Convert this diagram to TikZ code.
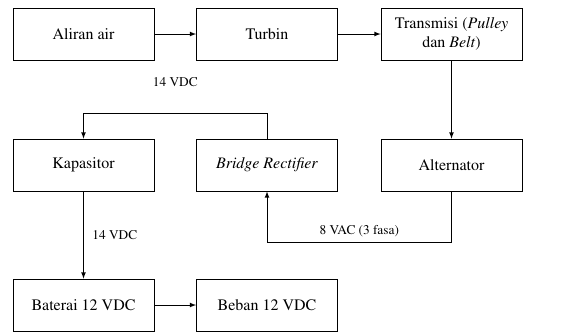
\documentclass[tikz,border=0pt]{standalone}
\usepackage[T1]{fontenc}
\usepackage{mathptmx}

\begin{document}
\begin{tikzpicture}[x=0.75pt, y=-0.75pt, line width=0.6pt]
    \tikzstyle{blok}=[draw, shape=rectangle, minimum width=105.75pt, minimum height=39pt, align=center, font=\fontsize{12}{14}\selectfont];
    \tikzstyle{ket}=[font=\fontsize{10}{12}\selectfont];
    \useasboundingbox (0,0) rectangle (581,331.5);
    \node[blok] (Air) at (83.5,34) {Aliran air};
    \node[blok] (Turbin) at (267,34) {Turbin};
    \node[blok] (Trans) at (451.5,34) {Transmisi (\textit{Pulley}\\dan \textit{Belt})};
    \node[blok] (Kap) at (83.5,165) {Kapasitor};
    \node[blok] (Rect) at (267,165) {\textit{Bridge Rectifier}};
    \node[blok] (Alt) at (451.5,165) {Alternator};
    \node[blok] (Bat) at (83.5,305) {Baterai 12 VDC};
    \node[blok] (Beban) at (267,305) {Beban 12 VDC};
    \coordinate (DC1) at (267,113);
    \coordinate (DC2) at (83.5,113);
    \coordinate (AC) at (451.5,242);
    \draw[-latex] (Air) -- (Turbin);
    \draw[-latex] (Turbin) -- (Trans);
    \draw[-latex] (Trans) -- (Alt);
    \draw[-latex] (Alt) -- (AC) -| node [pos=0.25, above, ket] {8 VAC (3 fasa)} (Rect);
    \draw[-latex] (Rect) -- (DC1) -- node [above=16pt, ket] {14 VDC} (DC2) -- (Kap);
    \draw[-latex] (Kap) -- (Bat) node [midway, right=3pt, ket] {14 VDC};
    \draw[-latex] (Bat) -- (Beban);
  \end{tikzpicture}
\end{document}
